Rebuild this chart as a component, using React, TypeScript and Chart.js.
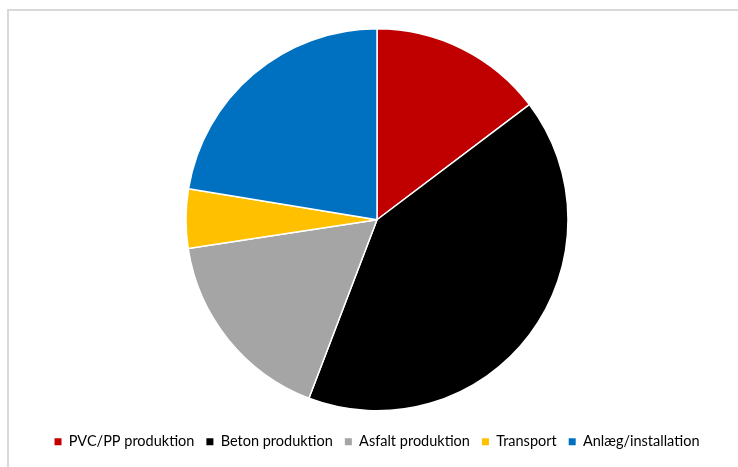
import React, { useEffect, useRef } from "react";
import { Chart, registerables } from "chart.js";

Chart.register(...registerables);

const categories = ["PVC/PP produktion", "Beton produktion", "Asfalt produktion", "Transport", "Anlæg/installation"];
const values = [14.7, 41.1, 16.8, 5.0, 22.4];
const colors = ["#C00000", "#000000", "#A5A5A5", "#FFC000", "#0070C0"];

export default function App() {
  const ref = useRef<HTMLCanvasElement | null>(null);
  useEffect(() => {
    if (!ref.current) return;
    const chart = new Chart(ref.current, {
      type: "pie",
      data: {
        labels: categories,
        datasets: [
          {
            data: values,
            backgroundColor: colors,
            borderColor: "#ffffff",
            borderWidth: 1.5,
          },
        ],
      },
      options: {
        responsive: false,
        animation: false,
        radius: 191,
        layout: { padding: { left: 16, top: 17, bottom: 8 } },
        plugins: {
          tooltip: { enabled: false },
          legend: {
            position: "bottom",
            labels: {
              boxWidth: 7,
              boxHeight: 7,
              padding: 12,
              color: "#595959",
              font: { family: "Lato", size: 14.5 },
              generateLabels: (c: any) =>
                categories.map((t, i) => ({
                  text: t,
                  fillStyle: colors[i],
                  strokeStyle: colors[i],
                  lineWidth: 0,
                  hidden: false,
                  index: i,
                })),
            },
          },
        },
      },
    });
    return () => chart.destroy();
  }, []);
  return (
    <div style={{ position: "fixed", left: 0, top: 0, width: 738, height: 467, background: "#fff", overflow: "hidden" }}>
      <div
        style={{
          position: "absolute",
          left: 7,
          top: 9,
          width: 760,
          height: 480,
          border: "2px solid #D9D9D9",
          boxSizing: "border-box",
        }}
      />
      <canvas ref={ref} width={738} height={467} style={{ position: "absolute", left: 0, top: 0 }} />
    </div>
  );
}
